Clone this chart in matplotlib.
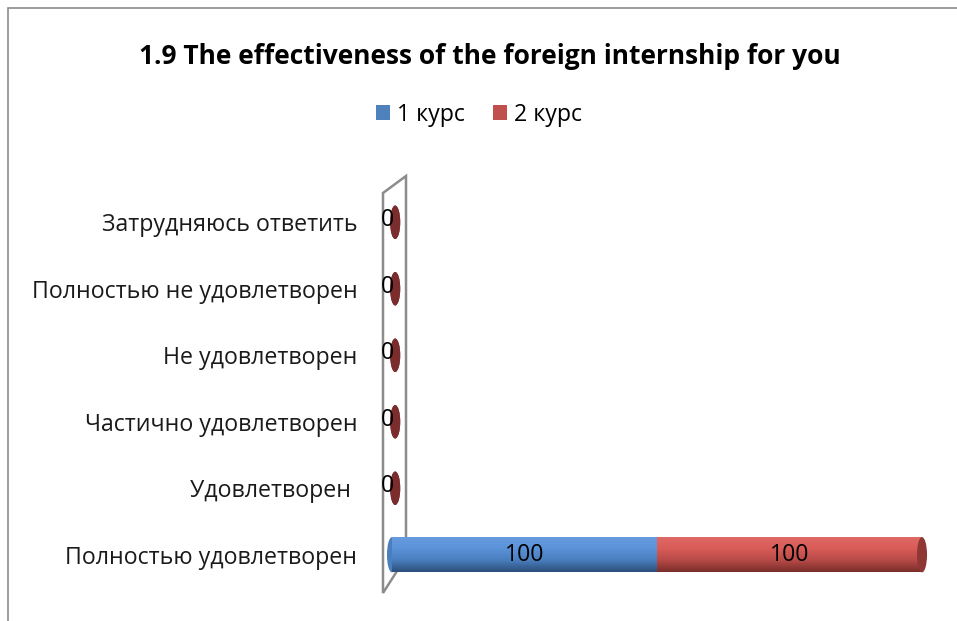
import numpy as np
import matplotlib.pyplot as plt
from matplotlib.patches import Ellipse, Polygon, Rectangle
from matplotlib.colors import LinearSegmentedColormap

plt.rcParams['font.family'] = ['Open Sans', 'Noto Sans', 'DejaVu Sans']

categories = ["Полностью удовлетворен", "Удовлетворен ", "Частично удовлетворен",
              "Не удовлетворен", "Полностью не удовлетворен", "Затрудняюсь ответить"]
course1 = [100, 0, 0, 0, 0, 0]
course2 = [100, 0, 0, 0, 0, 0]
series_names = ["1 курс", "2 курс"]
title = "1.9 The effectiveness of the foreign internship for you"

colors = ["#4f81bd", "#c0504d"]
shades = [["#6a9be0", "#5b93d8", "#4a7fbf", "#2c4f7a"],
          ["#e06a66", "#d95c58", "#b84b48", "#7a2d2b"]]
caps = ["#4a7cba", "#8e3735"]

W, H = 957, 621
fig = plt.figure(figsize=(W / 100, H / 100), dpi=100)

# outer chart border
fig.patches.append(Rectangle((8 / W, -0.1), 1.2, (H - 8) / H + 0.1, transform=fig.transFigure,
                             fill=False, edgecolor="#8c8c8c", lw=1.2))

ax = fig.add_axes([392 / W, (H - 588) / H, 530 / W, 399 / H])
for s in ax.spines.values():
    s.set_visible(False)
ax.set_xticks([])
y = np.arange(len(categories))
ax.set_yticks(y)
ax.set_yticklabels(categories, fontsize=16.7, color="#1a1a1a")
ax.tick_params(axis="y", length=0, pad=25)

# back plane of the 3D chart
px = lambda p: (p - 392) / 530
py = lambda p: (588 - p) / 399
plane = Polygon([(px(383), py(593)), (px(383), py(193)), (px(406), py(176)), (px(406), py(557))],
                closed=True, fill=False, edgecolor="#8c8c8c", lw=1.8, transform=ax.transAxes,
                clip_on=False, zorder=1)
ax.add_patch(plane)

bar_h = 0.53
cap_w = 3.8
left = np.zeros(len(categories))
for i, vals in enumerate([course1, course2]):
    vals = np.array(vals, dtype=float)
    bars = ax.barh(y, vals, left=left, height=bar_h, color=colors[i], label=series_names[i],
                   zorder=3, linewidth=0)
    cmap = LinearSegmentedColormap.from_list("c%d" % i, shades[i])
    grad = np.linspace(0, 1, 64).reshape(-1, 1)
    for b, v, l, yy in zip(bars, vals, left, y):
        if v > 0:
            im = ax.imshow(grad, cmap=cmap, aspect="auto", zorder=3.5,
                           extent=(l, l + v, yy - bar_h / 2, yy + bar_h / 2), origin="upper")
            im.set_clip_path(b)
            if i == 0 and l == 0:
                ax.add_patch(Ellipse((l, yy), cap_w, bar_h, facecolor=shades[i][2], zorder=3.4,
                                     clip_on=False))
            ax.text(l + v / 2, yy, "%d" % v, ha="center", va="center", fontsize=16.7,
                    color="black", zorder=6)
        else:
            ax.add_patch(Ellipse((l + v + 1.2, yy), cap_w, bar_h * 0.95, facecolor="#7b2c2c",
                                 zorder=4, clip_on=False))
    left = left + vals

# end caps and zero labels
for yy, tot in zip(y, left):
    if tot > 0:
        ax.add_patch(Ellipse((tot, yy), cap_w, bar_h, facecolor=caps[1], zorder=4, clip_on=False))
    else:
        ax.text(tot - 1.6, yy + 0.03, "0", ha="center", va="center", fontsize=16.7,
                color="black", zorder=6, clip_on=False)
ax.set_xlim(0, 200)
ax.set_ylim(-0.5, len(categories) - 0.5)

fig.text(490 / W, 1 - 57 / H, title, ha="center", va="center", fontsize=19,
         fontweight="bold", color="black")
fig.legend(loc="center", bbox_to_anchor=(479 / W, 1 - 115 / H), ncol=2, frameon=False,
           fontsize=16.7, handlelength=0.6, handleheight=0.6, handletextpad=0.3,
           columnspacing=1.2)

fig.savefig("out.png", dpi=100)
